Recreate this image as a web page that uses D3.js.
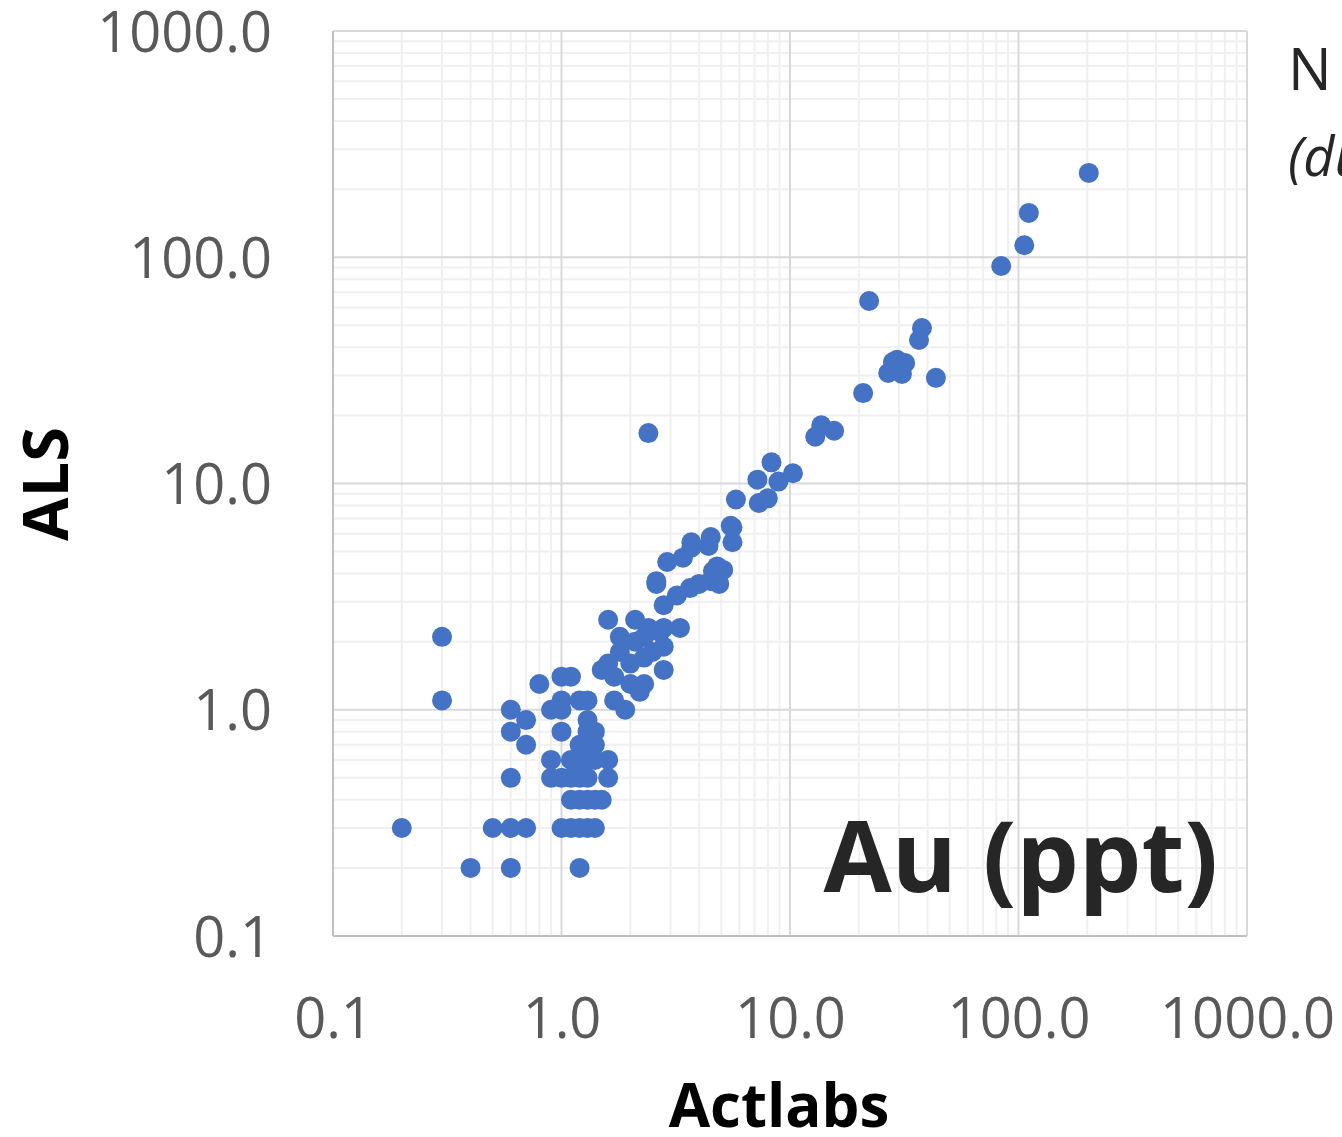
<!DOCTYPE html>
<html>
<head>
<meta charset="utf-8">
<script src="https://cdn.jsdelivr.net/npm/d3@7/dist/d3.min.js"></script>
<style>
  html, body { margin: 0; padding: 0; background: #ffffff; overflow: hidden; }
  svg { display: block; }
</style>
</head>
<body>
<svg id="chart" width="1342" height="1137"></svg>
<script>
// ---- Data ----
const xAxisTitle = "Actlabs";
const yAxisTitle = "ALS";
const panelLabel = "Au (ppt)";
const noteLine1 = "N = 152";
const noteLine2 = "(duplicates)";
const tickValues = [0.1, 1, 10, 100, 1000];

// Actlabs (x) values
const actlabs = [
  0.2, 0.3, 0.3, 0.4, 0.5, 0.6, 0.6, 0.6, 0.6, 0.6,
  0.7, 0.7, 0.7, 0.8, 0.9, 0.9, 0.9,
  1.0, 1.0, 1.0, 1.0, 1.0, 1.0,
  1.1, 1.1, 1.1, 1.1, 1.1,
  1.2, 1.2, 1.2, 1.2, 1.2, 1.2, 1.2,
  1.3, 1.3, 1.3, 1.3, 1.3, 1.3, 1.3, 1.3,
  1.4, 1.4, 1.4, 1.4, 1.4,
  1.5, 1.5, 1.6, 1.6, 1.6, 1.6,
  1.7, 1.7, 1.8, 1.8, 1.9, 2.0,
  2.1, 2.1, 2.0, 2.3, 2.2, 2.3, 2.4, 2.5, 2.3,
  2.7, 2.8, 2.8, 2.8, 2.8, 3.3, 3.2, 2.6, 2.6,
  2.4,
  2.9, 3.4, 3.7, 3.7, 4.4, 4.5, 5.6, 5.6, 5.5, 5.8,
  3.65, 4.0, 4.5, 4.9, 4.6, 5.1, 4.8,
  7.3, 8.0, 7.2, 8.9, 8.3, 10.3,
  12.9, 13.7, 15.6, 20.9, 22.2,
  26.9, 30.9, 28.2, 29.4, 31.9, 36.7, 37.8, 43.5,
  84, 106, 111, 203
];
// ALS (y) values
const als = [
  0.3, 2.1, 1.1, 0.2, 0.3, 0.3, 0.2, 1.0, 0.8, 0.5,
  0.9, 0.7, 0.3, 1.3, 1.0, 0.6, 0.5,
  1.4, 1.1, 1.0, 0.8, 0.5, 0.3,
  1.4, 0.6, 0.5, 0.4, 0.3,
  1.1, 0.7, 0.6, 0.5, 0.4, 0.3, 0.2,
  1.1, 0.9, 0.8, 0.7, 0.6, 0.5, 0.4, 0.3,
  0.8, 0.7, 0.6, 0.4, 0.3,
  1.5, 0.4, 0.6, 0.5, 1.6, 2.5,
  1.4, 1.1, 2.1, 1.8, 1.0, 1.6,
  2.5, 2.0, 1.3, 1.3, 1.2, 2.1, 2.3, 1.8, 1.7,
  2.2, 2.3, 1.9, 1.5, 2.9, 2.3, 3.2, 3.7, 3.6,
  16.7,
  4.5, 4.7, 5.5, 5.2, 5.3, 5.8, 5.5, 6.4, 6.5, 8.5,
  3.45, 3.6, 3.7, 3.6, 4.1, 4.15, 4.3,
  8.2, 8.6, 10.4, 10.2, 12.4, 11.1,
  16.1, 18.1, 17.1, 25.1, 64.1,
  30.8, 30.5, 34.4, 35.2, 34.1, 43.1, 48.7, 29.3,
  91.5, 113, 157, 236
];

// ---- Layout ----
const plot = { left: 333, right: 1247, top: 31, bottom: 936 };
const svg = d3.select("#chart");
const FONT = "'Open Sans', 'Noto Sans', 'Liberation Sans', sans-serif";

const x = d3.scaleLog().domain([0.1, 1000]).range([plot.left, plot.right]);
const y = d3.scaleLog().domain([0.1, 1000]).range([plot.bottom, plot.top]);

// minor values
const minor = [];
for (let d = 0.1; d < 1000; d *= 10) {
  for (let k = 2; k <= 9; k++) minor.push(+(d * k).toPrecision(3));
}

const grid = svg.append("g");
grid.selectAll("line.vminor").data(minor).join("line")
  .attr("x1", d => x(d)).attr("x2", d => x(d))
  .attr("y1", plot.top).attr("y2", plot.bottom)
  .attr("stroke", "#f0f0f0").attr("stroke-width", 2);
grid.selectAll("line.hminor").data(minor).join("line")
  .attr("y1", d => y(d)).attr("y2", d => y(d))
  .attr("x1", plot.left).attr("x2", plot.right)
  .attr("stroke", "#f0f0f0").attr("stroke-width", 2);
grid.selectAll("line.vmajor").data(tickValues).join("line")
  .attr("x1", d => x(d)).attr("x2", d => x(d))
  .attr("y1", plot.top).attr("y2", plot.bottom)
  .attr("stroke", "#d9d9d9").attr("stroke-width", 2);
grid.selectAll("line.hmajor").data(tickValues).join("line")
  .attr("y1", d => y(d)).attr("y2", d => y(d))
  .attr("x1", plot.left).attr("x2", plot.right)
  .attr("stroke", "#d9d9d9").attr("stroke-width", 2);

// axis lines
svg.append("line").attr("x1", plot.left).attr("x2", plot.left)
  .attr("y1", plot.top).attr("y2", plot.bottom)
  .attr("stroke", "#bfbfbf").attr("stroke-width", 2);
svg.append("line").attr("x1", plot.left).attr("x2", plot.right)
  .attr("y1", plot.bottom).attr("y2", plot.bottom)
  .attr("stroke", "#bfbfbf").attr("stroke-width", 2);

const fmt = d3.format(".1f");

// axes via d3 axis generators (no tick lines, labels only)
const xAxis = d3.axisBottom(x).tickValues(tickValues).tickFormat(fmt).tickSize(0).tickPadding(0);
const gx = svg.append("g").attr("transform", `translate(0, 1038)`).call(xAxis);
gx.select(".domain").remove();
gx.selectAll("text").attr("dy", 0).attr("y", 0)
  .style("font-family", FONT).style("font-size", "56px").attr("fill", "#595959");

const yAxis = d3.axisLeft(y).tickValues(tickValues).tickFormat(fmt).tickSize(0).tickPadding(0);
const gy = svg.append("g").attr("transform", `translate(272, 0)`).call(yAxis);
gy.select(".domain").remove();
gy.selectAll("text").attr("x", 0).attr("dy", "0.36em")
  .style("font-family", FONT).style("font-size", "56px").attr("fill", "#595959");

// points
const pts = actlabs.map((v, i) => [v, als[i]]);
svg.append("g").selectAll("circle").data(pts).join("circle")
  .attr("cx", d => x(d[0])).attr("cy", d => y(d[1]))
  .attr("r", 10).attr("fill", "#4472C4");

// axis titles
svg.append("text").text(xAxisTitle)
  .attr("x", 779).attr("y", 1127).attr("text-anchor", "middle")
  .style("font-family", FONT).style("font-weight", "bold").style("font-size", "60px")
  .attr("fill", "#000000");
svg.append("text").text(yAxisTitle)
  .attr("transform", "translate(68, 484) rotate(-90)").attr("text-anchor", "middle")
  .style("font-family", FONT).style("font-weight", "bold").style("font-size", "63px")
  .attr("fill", "#000000");

// panel label
svg.append("text").text(panelLabel)
  .attr("x", 1218).attr("y", 892).attr("text-anchor", "end")
  .style("font-family", FONT).style("font-weight", "bold").style("font-size", "99px")
  .attr("fill", "#262626");

// note (clipped at right edge)
svg.append("text").text(noteLine1)
  .attr("x", 1288).attr("y", 90)
  .style("font-family", FONT).style("font-size", "58px").attr("fill", "#262626");
svg.append("text").text(noteLine2)
  .attr("x", 1288).attr("y", 176)
  .style("font-family", FONT).style("font-style", "italic").style("font-size", "54px").attr("fill", "#262626");
</script>
</body>
</html>
